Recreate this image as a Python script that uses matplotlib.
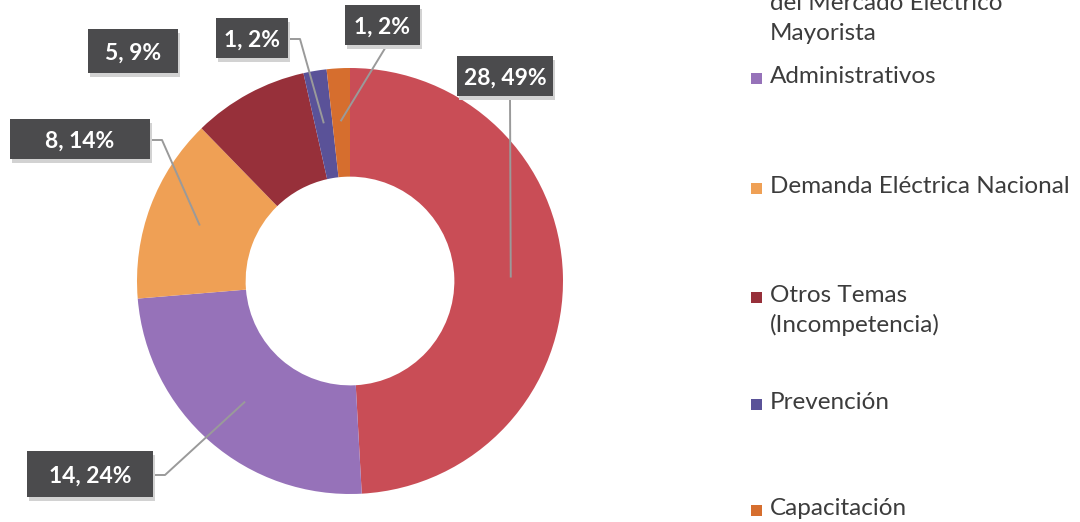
import matplotlib
matplotlib.use('Agg')
import matplotlib.pyplot as plt
import numpy as np
from matplotlib.patches import Rectangle
from matplotlib.lines import Line2D

# ---------------- data ----------------
categories = ["del Mercado Eléctrico\nMayorista",
              "Administrativos",
              "Demanda Eléctrica Nacional",
              "Otros Temas\n(Incompetencia)",
              "Prevención",
              "Capacitación"]
values = [28, 14, 8, 5, 1, 1]
percents = [49, 24, 14, 9, 2, 2]
colors = ["#C94D56", "#9672B9", "#EFA055", "#97303A", "#5A5298", "#D66E2E"]

# ---------------- layout (pixels, top-left origin) ----------------
W, H = 1080, 522
cx, cy, R = 350, 281, 213
# label boxes: centre x, centre y, width, height, leader style
label_boxes = [(505, 76, 96, 40, 'bottom'),
               (90, 474, 126, 46, 'right'),
               (80, 139, 140, 40, 'right'),
               (133, 51, 90, 43, None),
               (252, 38, 72, 40, 'right'),
               (382, 25, 75, 40, 'bottom')]
legend_baselines = [10, 83, 193, 302, 409, 515]
legend_marker_y = [-26, 78, 188, 297, 404, 510]
line_step = 30

FONT = 'Lato'

fig = plt.figure(figsize=(W / 100, H / 100), dpi=100)
fig.patch.set_facecolor('white')

def fx(x):
    return x / W

def fy(y):
    return 1 - y / H

ax = fig.add_axes([(cx - R) / W, (H - cy - R) / H, 2 * R / W, 2 * R / H])
wedges, _ = ax.pie(values, colors=colors, startangle=90, counterclock=False,
                   radius=1, wedgeprops=dict(width=0.51, edgecolor='none'))
ax.set_xlim(-1, 1)
ax.set_ylim(-1, 1)
ax.set_aspect('auto')
ax.axis('off')

# data labels with leader lines
for w, v, p, (bx, by, bw, bh, style) in zip(wedges, values, percents, label_boxes):
    mid = np.deg2rad((w.theta1 + w.theta2) / 2)
    tx, ty = ax.transData.transform((0.755 * np.cos(mid), 0.755 * np.sin(mid)))
    ty = H - ty
    if style == 'bottom':
        xs = [bx + 5, tx]
        ys = [by + bh / 2, ty]
    elif style == 'right':
        xs = [bx + bw / 2, bx + bw / 2 + 12, tx]
        ys = [by + 1, by + 1, ty]
    else:
        xs, ys = None, None
    if xs is not None:
        fig.add_artist(Line2D([fx(x) for x in xs], [fy(y) for y in ys],
                              color='#9A9A9A', lw=1.4, zorder=5))
    # soft shadow
    fig.add_artist(Rectangle((fx(bx - bw / 2 + 2), fy(by + bh / 2 + 4)), bw / W, bh / H,
                             facecolor='#D2D2D2', edgecolor='none', zorder=5.5))
    fig.add_artist(Rectangle((fx(bx - bw / 2), fy(by + bh / 2)), bw / W, bh / H,
                             facecolor='#4B4B4D', edgecolor='none', zorder=6))
    fig.text(fx(bx), fy(by), f"{v}, {p}%", color='white', fontsize=16.5,
             fontweight='bold', family=FONT, ha='center', va='center_baseline',
             zorder=7)

# legend
for lab, col, base, my in zip(categories, colors, legend_baselines, legend_marker_y):
    fig.add_artist(Rectangle((fx(751), fy(my + 5.5)), 11 / W, 11 / H,
                             facecolor=col, edgecolor='none'))
    for i, line in enumerate(lab.split('\n')):
        fig.text(fx(770), fy(base + i * line_step), line, fontsize=17.5,
                 family=FONT, color='#3C3C3C', ha='left', va='baseline')

fig.savefig('out.png', dpi=100, facecolor='white')
